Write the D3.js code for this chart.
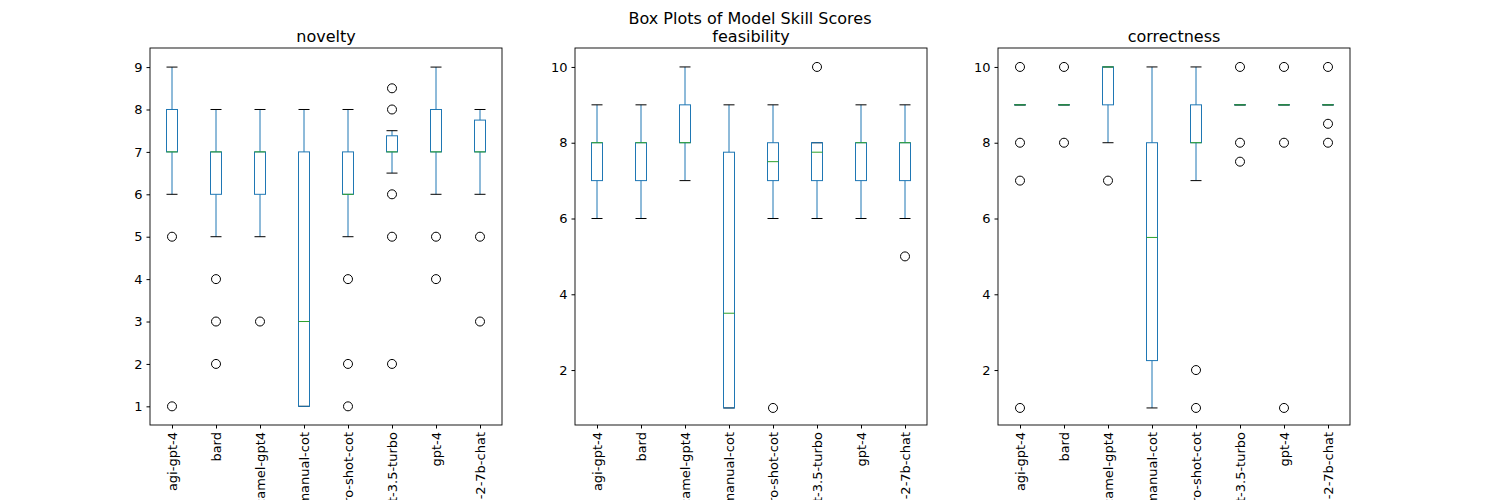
<!DOCTYPE html><html><head><script src="https://cdn.jsdelivr.net/npm/d3@7"></script>
<style>body{margin:0;background:#fff}text{font-family:"DejaVu Sans",sans-serif}</style></head><body>
<script>
const categories=["agi-gpt-4","bard","camel-gpt4","manual-cot","zero-shot-cot","gpt-3.5-turbo","gpt-4","llama-2-7b-chat"];
// each: [whiskerLow, q1, median, q3, whiskerHigh, outliers]
const novelty=[[6,7,7,8,9,[5,1]],[5,6,7,7,8,[4,3,2]],[5,6,7,7,8,[3]],[1,1,3,7,8,[]],[5,6,6,7,8,[4,2,1]],[6.5,7,7,7.38,7.5,[8.5,8,6,5,2]],[6,7,7,8,9,[5,4]],[6,7,7,7.75,8,[5,3]]];
const feasibility=[[6,7,8,8,9,[]],[6,7,8,8,9,[]],[7,8,8,9,10,[]],[1,1,3.5,7.75,9,[]],[6,7,7.5,8,9,[1]],[6,7,7.75,8,8,[10]],[6,7,8,8,9,[]],[6,7,8,8,9,[5]]];
const correctness=[[9,9,9,9,9,[10,8,7,1]],[9,9,9,9,9,[10,8]],[8,9,10,10,10,[7]],[1,2.25,5.5,8,10,[]],[7,8,8,9,10,[2,1]],[9,9,9,9,9,[10,8,7.5]],[9,9,9,9,9,[10,8,1]],[9,9,9,9,9,[10,8.5,8]]];
const panels=[{t:"novelty",d:novelty,x0:150,y:[0.56,9.45],ticks:[1,2,3,4,5,6,7,8,9]},
{t:"feasibility",d:feasibility,x0:575,y:[0.55,10.5],ticks:[2,4,6,8,10]},
{t:"correctness",d:correctness,x0:998,y:[0.55,10.5],ticks:[2,4,6,8,10]}];
const svg=d3.select("body").append("svg").attr("width",1500).attr("height",500);
svg.append("text").attr("x",750).attr("y",24).attr("text-anchor","middle").attr("font-size",16).text("Box Plots of Model Skill Scores");
const W=352,pTop=48,pBot=425;
panels.forEach(p=>{
 const g=svg.append("g").attr("transform",`translate(${p.x0},0)`);
 const x=d3.scaleLinear().domain([0.5,8.5]).range([0,W]);
 const y=d3.scaleLinear().domain(p.y).range([pBot,pTop]);
 g.append("text").attr("x",W/2).attr("y",pTop-6).attr("text-anchor","middle").attr("font-size",16).text(p.t);
 const ya=g.append("g").call(d3.axisLeft(y).tickValues(p.ticks).tickSize(3.5).tickPadding(4));
 ya.selectAll("text").attr("font-size",13).attr("fill","#000");ya.select(".domain").remove();
 const xa=g.append("g").attr("transform",`translate(0,${pBot})`).call(d3.axisBottom(x).tickValues(d3.range(1,9)).tickFormat((d,i)=>categories[i]).tickSize(3.5));
 xa.select(".domain").remove();
 xa.selectAll("text").attr("font-size",13).attr("fill","#000").attr("transform","rotate(-90)").attr("text-anchor","end").attr("dy","0.35em").attr("y",0).attr("x",-7);
 const bw=x(1.25)-x(1);
 p.d.forEach((b,i)=>{
  const c=x(i+1),col="#1f77b4";
  g.append("line").attr("x1",c).attr("x2",c).attr("y1",y(b[0])).attr("y2",y(b[1])).attr("stroke",col);
  g.append("line").attr("x1",c).attr("x2",c).attr("y1",y(b[3])).attr("y2",y(b[4])).attr("stroke",col);
  [b[0],b[4]].forEach(v=>g.append("line").attr("x1",c-bw/2).attr("x2",c+bw/2).attr("y1",y(v)).attr("y2",y(v)).attr("stroke","#000"));
  g.append("rect").attr("x",c-bw/2).attr("width",bw).attr("y",y(b[3])).attr("height",Math.max(0.01,y(b[1])-y(b[3]))).attr("fill","none").attr("stroke",col);
  g.append("line").attr("x1",c-bw/2).attr("x2",c+bw/2).attr("y1",y(b[2])).attr("y2",y(b[2])).attr("stroke","#2ca02c");
  b[5].forEach(v=>g.append("circle").attr("cx",c).attr("cy",y(v)).attr("r",4.5).attr("fill","none").attr("stroke","#000"));
 });
 g.append("rect").attr("width",W).attr("y",pTop).attr("height",pBot-pTop).attr("fill","none").attr("stroke","#000").attr("stroke-width",0.9);
});
</script></body></html>
